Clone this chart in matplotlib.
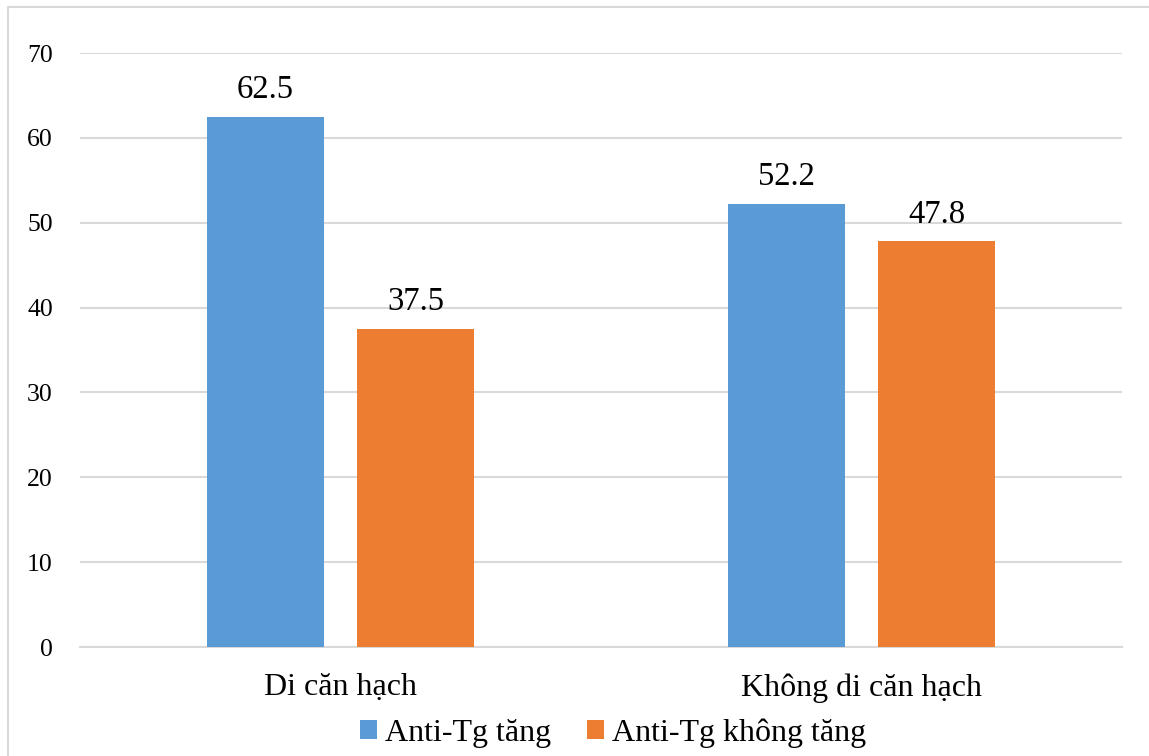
import matplotlib
matplotlib.use("Agg")
import matplotlib.pyplot as plt
import numpy as np
from matplotlib.patches import Rectangle

categories = ["Di căn hạch", "Không di căn hạch"]
series_names = ["Anti-Tg tăng", "Anti-Tg không tăng"]
tang = [62.5, 52.2]
khong_tang = [37.5, 47.8]
yticks = [0, 10, 20, 30, 40, 50, 60, 70]

colors = ["#5B9BD5", "#ED7D31"]
grid_color = "#D9D9D9"

plt.rcParams["font.family"] = ["Liberation Serif", "DejaVu Serif"]

W, H = 1149, 756
fig = plt.figure(figsize=(W / 100, H / 100), dpi=100)
ax = fig.add_axes([80 / W, 1 - 647 / H, (1122 - 80) / W, (647 - 53) / H])

x = np.arange(len(categories))
bw = 0.225
off = bw / 2 + 0.032
b1 = ax.bar(x - off, tang, bw, color=colors[0], label=series_names[0], zorder=3)
b2 = ax.bar(x + off, khong_tang, bw, color=colors[1], label=series_names[1], zorder=3)

for bars, vals in ((b1, tang), (b2, khong_tang)):
    for rect, v in zip(bars, vals):
        ax.annotate(f"{v:.1f}", (rect.get_x() + rect.get_width() / 2, v),
                    xytext=(0, 8.5), textcoords="offset points",
                    ha="center", va="bottom", fontsize=23.5)

ax.set_xlim(-0.5, len(categories) - 0.5)
ax.set_ylim(0, 70)
ax.set_yticks(yticks)
ax.set_xticks(x)
ax.set_xticklabels(categories, fontsize=23)
ax.tick_params(axis="y", length=0, pad=19.5, labelsize=18.5)
ax.tick_params(axis="x", length=0, pad=19)
ax.grid(axis="y", color=grid_color, linewidth=1.5, zorder=0)
for s in ("left", "right", "top"):
    ax.spines[s].set_visible(False)
ax.spines["bottom"].set_color(grid_color)
ax.spines["bottom"].set_linewidth(1.5)

ax.legend(loc="center", bbox_to_anchor=(613 / W, 1 - 733 / H),
          bbox_transform=fig.transFigure, ncol=2, frameon=False,
          fontsize=23, handlelength=0.55, handleheight=0.55,
          handletextpad=0.25, columnspacing=1.1)

# outer chart border
fig.patches.append(Rectangle((8 / W, -0.05), 1.1, 1 - 7 / H + 0.05,
                             transform=fig.transFigure, fill=False,
                             edgecolor=grid_color, linewidth=1.5))

fig.savefig("out.png", dpi=100)
